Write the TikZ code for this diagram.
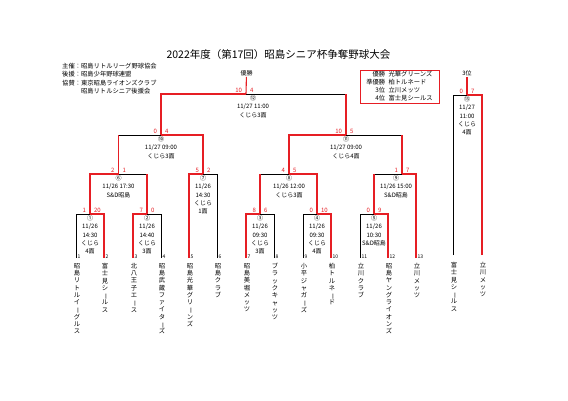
\documentclass[tikz,border=0pt]{standalone}
\usepackage{fontspec}
\setmainfont{Noto Sans CJK JP}
\usetikzlibrary{positioning}
\definecolor{winred}{RGB}{230,30,36}

% vertical (tate) text: one character per line
\newcommand\tatechar[1]{\ifx ー#1\rotatebox[origin=c]{-90}{ー}\else #1\fi}
\newcommand\tateloop[1]{\ifx\relax#1\else\hbox to 8pt{\hss\tatechar{#1}\hss}\expandafter\tateloop\fi}
\newcommand\tate[1]{\vbox{\baselineskip=7.3pt\lineskiplimit=-20pt\expandafter\tateloop#1\relax}}

\begin{document}
\begin{tikzpicture}[
        x=1pt, y=-1pt,
        win/.style = {draw=winred, line width=1.1pt},
        lose/.style = {draw=black, line width=0.7pt},
        score/.style = {text=winred, inner sep=0.3pt, font=\fontsize{6}{7}\selectfont},
        info/.style = {anchor=north, align=center, inner sep=0pt, font=\fontsize{6}{8.2}\selectfont},
        tnum/.style = {anchor=west, inner sep=0pt, font=\fontsize{5}{6}\selectfont},
        tname/.style = {anchor=north, inner sep=0pt, font=\fontsize{6.3}{7.3}\selectfont},
        small/.style = {inner sep=0.5pt, font=\fontsize{6}{7}\selectfont}
    ]

        \fill[white] (0,0) rectangle (568,401);
        \useasboundingbox (0,0) rectangle (568,401);

        % title and header
        \node (title) at (278.5,55) [font=\fontsize{10.5}{12}\selectfont] {2022年度（第17回）昭島シニア杯争奪野球大会};
        \node (sponsor) at (62,62.5) [anchor=north west, inner sep=0pt, font=\fontsize{6.3}{8.3}\selectfont]
            {\begin{tabular}{@{}l@{}l@{}}
                主催：&昭島リトルリーグ野球協会\\
                後援：&昭島少年野球連盟\\
                協賛：&東京昭島ライオンズクラブ\\
                &昭島リトルシニア後援会
            \end{tabular}};
        \node (result) at (399.5,86.7) [draw=winred, line width=0.9pt, minimum width=79pt, minimum height=32pt, inner ysep=0pt, font=\fontsize{6.3}{8.2}\selectfont]
            {\begin{tabular}{@{}r@{\hspace{3.5pt}}l@{}}
                優勝&光華グリーンズ\\
                準優勝&柏トルネード\\
                3位&立川メッツ\\
                4位&富士見シールス
            \end{tabular}};

        % teams
        \foreach \i/\x/\name in {1/76/昭島リトルイーグルス, 2/104/富士見シールス, 3/133/北八王子エース,
                4/161/昭島武蔵ファイターズ, 5/189/昭島光華グリーンズ, 6/217/昭島クラブ, 7/246/昭島美堀メッツ,
                8/274/ブラックキャッツ, 9/303/小平ジャガーズ, 10/331/柏トルネード, 11/360/立川クラブ,
                12/388/昭島ヤングライオンズ, 13/416/立川メッツ} {
            \coordinate (t\i) at (\x,258);
            \node[tnum] (num\i) at (\x+1.5,257) {\i};
            \node[tname] (name\i) at (\x+1,263) {\tate{\name}};
        }
        \coordinate (ta) at (453,255);
        \coordinate (tb) at (482,255);
        \node[tname] (namea) at (454,262) {\tate{富士見シールス}};
        \node[tname] (nameb) at (483,262) {\tate{立川メッツ}};

        % game joints
        \coordinate (g1) at (90,214);
        \coordinate (g2) at (147,214);
        \coordinate (g3) at (260,214);
        \coordinate (g4) at (317,214);
        \coordinate (g5) at (374,214);
        \coordinate (g6) at (118.5,174);
        \coordinate (g7) at (203,174);
        \coordinate (g8) at (289,174);
        \coordinate (g9) at (402,174);
        \coordinate (g10) at (161,135);
        \coordinate (g11) at (346,135);
        \coordinate (g12) at (246,94);
        \coordinate (g13) at (467,95);
        \node[small] (champ) at (246.5,73.5) {優勝};
        \node[small] (third) at (467,73.5) {3位};

        % losing sides
        \draw[lose] (t1) |- (g1);
        \draw[lose] (t4) |- (g2);
        \draw[lose] (t8) |- (g3);
        \draw[lose] (t9) |- (g4);
        \draw[lose] (t11) |- (g5);
        \draw[lose] (t6) |- (g7);
        \draw[lose] (g2 |- g6) -- (g6);
        \draw[lose] (g3 |- g8) -- (g8);
        \draw[lose] (g5 |- g9) -- (g9);
        \draw[lose] (g6 |- g10) -- (g10);
        \draw[lose] (g9 |- g11) -- (g11);
        \draw[lose] (g11 |- g12) -- (g12);
        \draw[lose] (ta) |- (g13);

        % winning paths
        \draw[win] (t2) |- (g1);
        \draw[win] (t3) |- (g2);
        \draw[win] (t7) |- (g3);
        \draw[win] (t10) |- (g4);
        \draw[win] (t12) |- (g5);
        \draw[win] (t5) |- (g7);
        \draw[win] (t13) |- (g9);
        \draw[win] (g1) |- (g6);
        \draw[win] (g2) -- (g2 |- g6);
        \draw[win] (g3) -- (g3 |- g8);
        \draw[win] (g4) |- (g8);
        \draw[win] (g5) -- (g5 |- g9);
        \draw[win] (g6) -- (g6 |- g10);
        \draw[win] (g7) |- (g10);
        \draw[win] (g8) |- (g11);
        \draw[win] (g9) -- (g9 |- g11);
        \draw[win] (g10) |- (g12);
        \draw[win] (g11) -- (g11 |- g12);
        \draw[win] (g12) -- (champ);
        \draw[win] (tb) |- (g13);
        \draw[win] (g13) -- (third);

        % scores
        \foreach \g/\a/\b in {1/1/20, 2/7/0, 3/8/6, 4/0/10, 5/0/9, 6/2/1, 7/5/2, 8/4/5, 9/1/7,
                10/0/4, 11/10/5, 12/10/4, 13/0/7} {
            \node[score, anchor=south east] (sa\g) at ([xshift=-3.5pt, yshift=1.3pt]g\g) {\a};
            \node[score, anchor=south west] (sb\g) at ([xshift=3.5pt, yshift=1.3pt]g\g) {\b};
        }

        % game info
        \node[info] (info1) at (90,215.5) {①\\11/26\\14:30\\くじら\\4面};
        \node[info] (info2) at (147,215.5) {②\\11/26\\14:40\\くじら\\3面};
        \node[info] (info3) at (260,215.5) {③\\11/26\\09:30\\くじら\\3面};
        \node[info] (info4) at (317,215.5) {④\\11/26\\09:30\\くじら\\4面};
        \node[info] (info5) at (374,215.5) {⑤\\11/26\\10:30\\S\&D昭島};
        \node[info] (info6) at (118.5,175.5) {⑥\\11/26 17:30\\S\&D昭島};
        \node[info] (info7) at (203,175.5) {⑦\\11/26\\14:30\\くじら\\1面};
        \node[info] (info8) at (289,175.5) {⑧\\11/26 12:00\\くじら3面};
        \node[info] (info9) at (396,175.5) {⑨\\11/26 15:00\\S\&D昭島};
        \node[info] (info10) at (161,136.5) {⑩\\11/27 09:00\\くじら3面};
        \node[info] (info11) at (346,136.5) {⑪\\11/27 09:00\\くじら4面};
        \node[info] (info12) at (253,95.5) {⑫\\11/27 11:00\\くじら3面};
        \node[info] (info13) at (467,96.5) {⑬\\11/27\\11:00\\くじら\\4面};

    \end{tikzpicture}
\end{document}
